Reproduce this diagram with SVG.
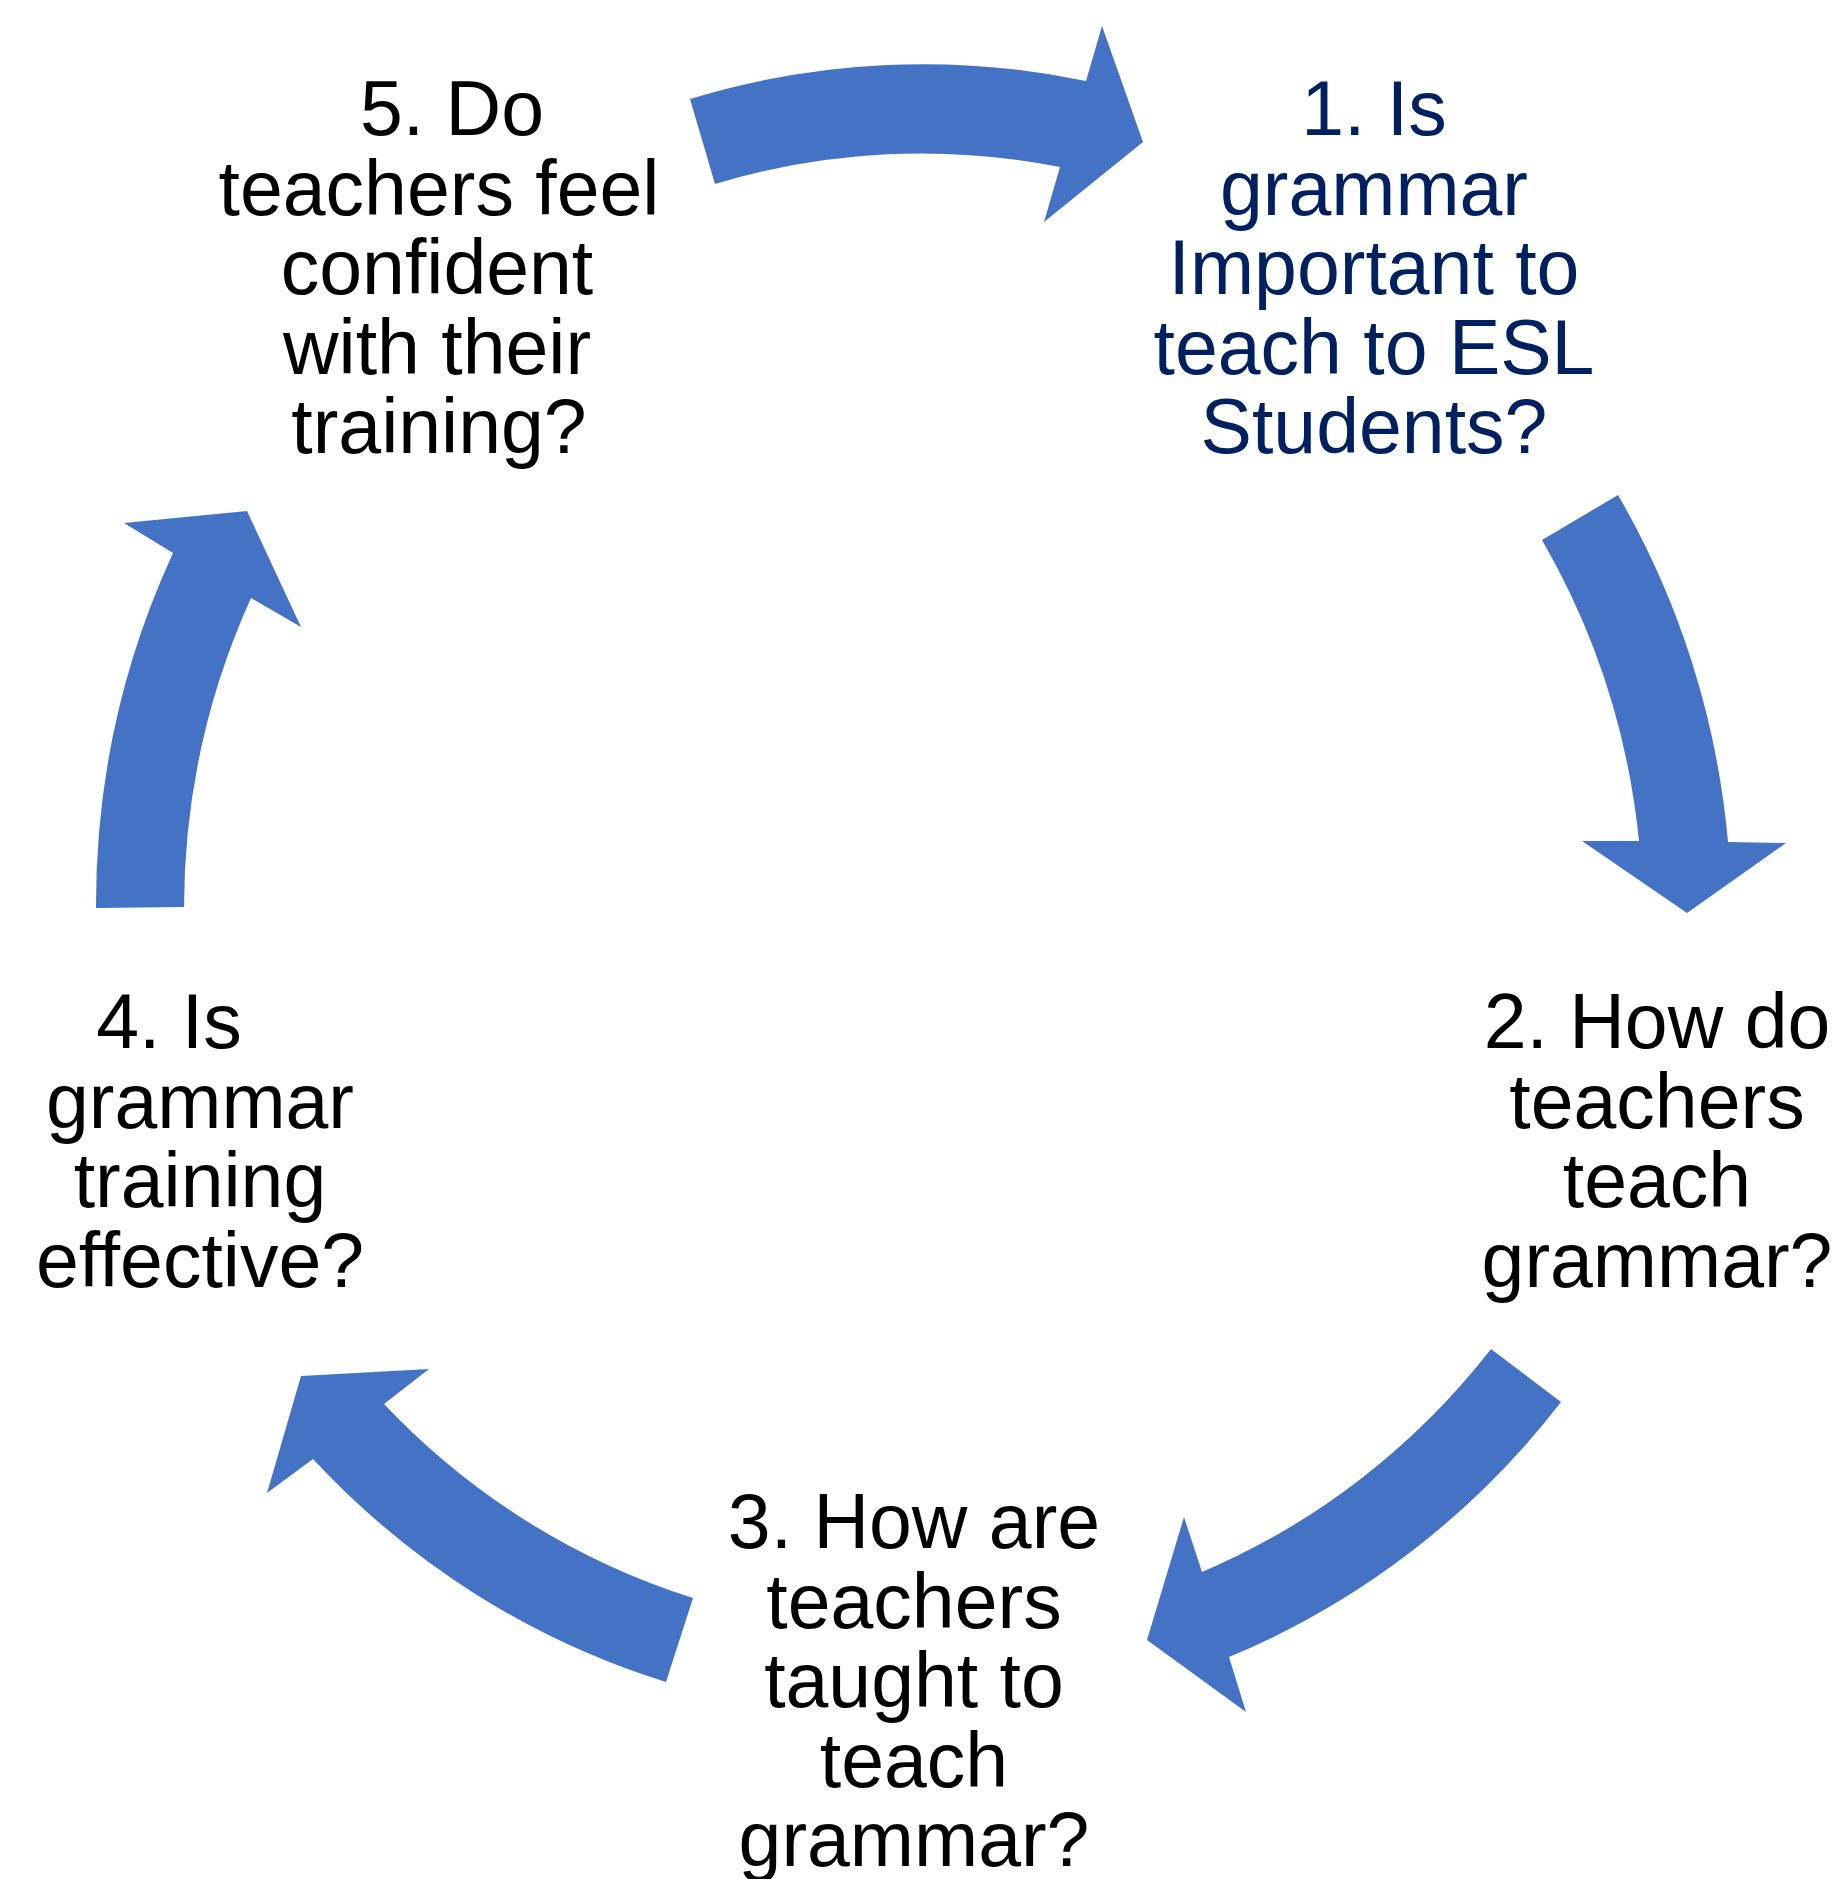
<svg xmlns="http://www.w3.org/2000/svg" width="1840" height="1879" viewBox="0 0 1840 1879">
  <style>
    .arrow { fill: #4472C4; stroke: none; }
    .label { font-family: "Liberation Sans", Arial, sans-serif; font-size: 77px; text-anchor: middle; fill: #000000; }
    .label.first { fill: #002060; }
  </style>
  <rect width="1840" height="1879" fill="#FFFFFF"/>

  <!-- curved cycle arrows, clockwise -->
  <g id="connectors">
    <path class="arrow" d="M 690,99 A 812 828 0 0 1 1086,81 L 1102,26 L 1143,142 L 1044,222 L 1060,167 A 727 742 0 0 0 715,184 Z"/>
    <path class="arrow" d="M 1618,495 A 812 828 0 0 1 1728,842 L 1786,843 L 1687,913 L 1582,841 L 1639,841 A 727 742 0 0 0 1542,540 Z"/>
    <path class="arrow" d="M 1561,1402 A 812 828 0 0 1 1229,1657 L 1246,1712 L 1147,1640 L 1184,1517 L 1202,1572 A 727 742 0 0 0 1491,1349 Z"/>
    <path class="arrow" d="M 666,1682 A 812 828 0 0 1 313,1459 L 267,1493 L 301,1376 L 429,1369 L 384,1404 A 727 742 0 0 0 693,1598 Z"/>
    <path class="arrow" d="M 96,908 A 812 828 0 0 1 173,553 L 124,523 L 247,511 L 301,627 L 251,598 A 727 742 0 0 0 184,907 Z"/>
  </g>

  <!-- one text element per line so that no inter-line whitespace joins a centred chunk -->
  <g id="node1" class="label first">
    <text class="label first" x="1374" y="135">1. Is</text>
    <text class="label first" x="1374" y="214.5">grammar</text>
    <text class="label first" x="1374" y="294">Important to</text>
    <text class="label first" x="1374" y="373.5">teach to ESL</text>
    <text class="label first" x="1374" y="453">Students?</text>
  </g>

  <g id="node2">
    <text class="label" x="1657" y="1048">2. How do</text>
    <text class="label" x="1657" y="1127.5">teachers</text>
    <text class="label" x="1657" y="1207">teach</text>
    <text class="label" x="1657" y="1286.5">grammar?</text>
  </g>

  <g id="node3">
    <text class="label" x="914" y="1548">3. How are</text>
    <text class="label" x="914" y="1627.5">teachers</text>
    <text class="label" x="914" y="1707">taught to</text>
    <text class="label" x="914" y="1786.5">teach</text>
    <text class="label" x="914" y="1866">grammar?</text>
  </g>

  <g id="node4">
    <text class="label" x="169" y="1048">4. Is</text>
    <text class="label" x="200" y="1127.5">grammar</text>
    <text class="label" x="200" y="1207">training</text>
    <text class="label" x="200" y="1286.5">effective?</text>
  </g>

  <g id="node5">
    <text class="label" x="452" y="135">5. Do</text>
    <text class="label" x="439" y="214.5">teachers feel</text>
    <text class="label" x="437" y="294">confident</text>
    <text class="label" x="437" y="373.5">with their</text>
    <text class="label" x="439" y="453">training?</text>
  </g>
</svg>
